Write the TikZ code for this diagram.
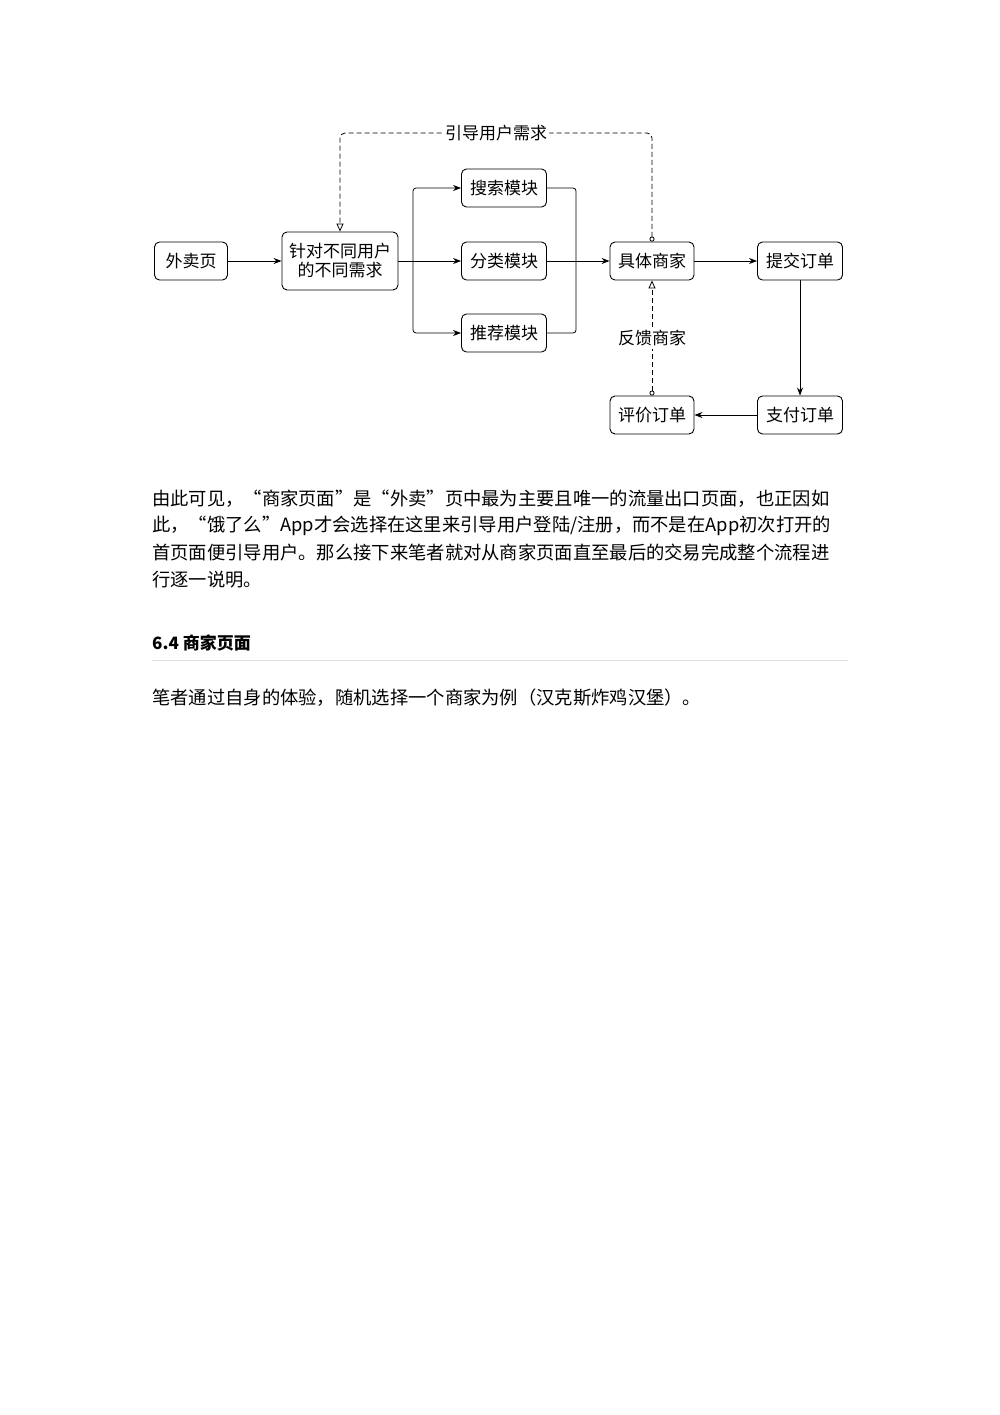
\documentclass[tikz,border=0pt]{standalone}
\usepackage{fontspec}
\setmainfont{Noto Sans CJK SC}
\newfontfamily\cjk{Noto Sans CJK SC}
\usetikzlibrary{arrows.meta}
\begin{document}
\begin{tikzpicture}[x=1pt,y=-1pt,
  box/.style={draw,rounded corners=5pt,line width=0.9pt,minimum height=38pt,font=\fontsize{17}{18}\selectfont,inner sep=2pt},
  conn/.style={line width=0.8pt,-{Stealth[length=8pt,width=6pt]}},
  dconn/.style={line width=0.8pt,dash pattern=on 5pt off 3pt,{Circle[open,length=5pt,width=5pt,fill=white]}-{Triangle[open,length=8pt,width=7pt]}},
  body/.style={anchor=west,font=\fontsize{18.3}{18}\selectfont,inner sep=0pt}]
\useasboundingbox (0,0) rectangle (1000,1415);
\fill[white] (0,0) rectangle (1000,1415);
\node[box,minimum width=73pt] (wm) at (191,261) {外卖页};
\node[box,minimum width=116pt,minimum height=58pt,align=center,font=\fontsize{17}{19}\selectfont] (xq) at (340,261) {针对不同用户\\的不同需求};
\node[box,minimum width=85pt] (ss) at (504,188) {搜索模块};
\node[box,minimum width=85pt] (fl) at (504,261) {分类模块};
\node[box,minimum width=85pt] (tj) at (504,333) {推荐模块};
\node[box,minimum width=84pt] (sj) at (652,261) {具体商家};
\node[box,minimum width=85pt] (tj2) at (800,261) {提交订单};
\node[box,minimum width=85pt] (zf) at (800,415) {支付订单};
\node[box,minimum width=84pt] (pj) at (652,415) {评价订单};
\coordinate (br) at (413,261);
\coordinate (mg) at (576,261);
\draw[conn] (wm) -- (xq);
\draw[line width=0.8pt] (xq.east) -- (br);
\draw[conn,rounded corners=3pt] (br) |- (ss);
\draw[conn] (br) -- (fl);
\draw[conn,rounded corners=3pt] (br) |- (tj);
\draw[line width=0.8pt,rounded corners=3pt] (ss) -| (mg);
\draw[line width=0.8pt,rounded corners=3pt] (tj) -| (mg);
\draw[line width=0.8pt] (fl) -- (mg);
\draw[conn] (mg) -- (sj);
\draw[conn] (sj) -- (tj2);
\draw[conn] (tj2) -- (zf);
\draw[conn] (zf) -- (pj);
\draw[dconn,rounded corners=5pt] (sj.north) -- (652,133) -- node[fill=white,font=\fontsize{17}{18}\selectfont,inner sep=2pt]{引导用户需求} (340,133) -- (xq.north);
\draw[dconn] (pj.north) -- node[fill=white,font=\fontsize{17}{18}\selectfont,inner sep=3pt,pos=0.5]{反馈商家} (sj.south);
\node[body] (p1) at (152,499) {由此可见，“商家页面”是“外卖”页中最为主要且唯一的流量出口页面，也正因如};
\node[body] (p2) at (152,526) {此，“饿了么”App才会选择在这里来引导用户登陆/注册，而不是在App初次打开的};
\node[body] (p3) at (152,553) {首页面便引导用户。那么接下来笔者就对从商家页面直至最后的交易完成整个流程进};
\node[body] (p4) at (152,580) {行逐一说明。};
\node[body,font=\fontsize{17}{18}\selectfont\bfseries] (h) at (152,643) {6.4 商家页面};
\draw[black!12,line width=0.8pt] (152,660) -- (848,660);
\node[body] (p5) at (152,698) {笔者通过自身的体验，随机选择一个商家为例（汉克斯炸鸡汉堡）。};
\end{tikzpicture}
\end{document}
